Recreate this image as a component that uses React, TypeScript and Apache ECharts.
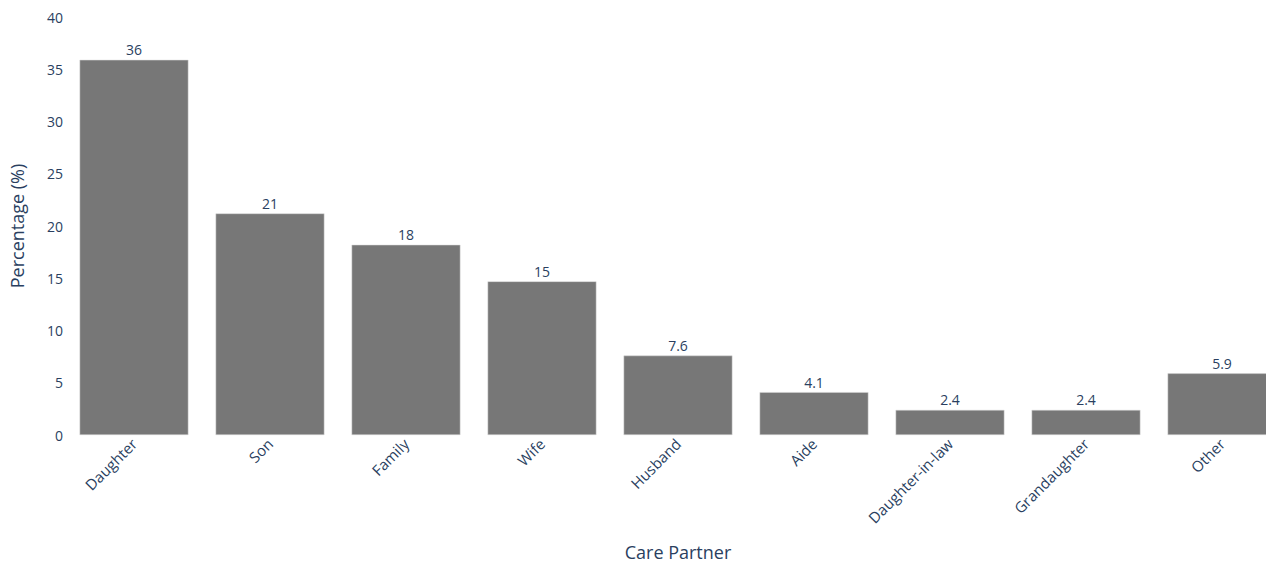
import React, { useEffect, useRef } from "react";
import * as echarts from "echarts";

const categories = [
  "Daughter",
  "Son",
  "Family",
  "Wife",
  "Husband",
  "Aide",
  "Daughter-in-law",
  "Grandaughter",
  "Other",
];
const percentages = [35.9, 21.2, 18.2, 14.7, 7.6, 4.1, 2.4, 2.4, 5.9];
const yTicks = { min: 0, max: 40, interval: 5 };

const TEXT = "#2a3f5f";
const FONT = "'Open Sans', 'Noto Sans', sans-serif";

export default function App() {
  const ref = useRef<HTMLDivElement>(null);
  useEffect(() => {
    document.body.style.margin = "0";
    if (!ref.current) return;
    const chart = echarts.init(ref.current, undefined, { renderer: "svg" });
    chart.setOption({
      animation: false,
      backgroundColor: "#ffffff",
      textStyle: { fontFamily: FONT, color: TEXT },
      grid: {
        left: 66,
        right: 0,
        top: 17,
        bottom: 129,
        containLabel: false,
        outerBoundsMode: "none",
      },
      xAxis: {
        type: "category",
        data: categories,
        name: "Care Partner",
        nameLocation: "middle",
        nameGap: 108,
        nameTextStyle: { fontFamily: FONT, fontSize: 18, color: TEXT },
        axisLine: { show: false },
        axisTick: { show: false },
        axisLabel: {
          rotate: 45,
          interval: 0,
          margin: 6,
          fontFamily: FONT,
          fontSize: 15,
          color: TEXT,
        },
      },
      yAxis: {
        type: "value",
        min: yTicks.min,
        max: yTicks.max,
        interval: yTicks.interval,
        name: "Percentage (%)",
        nameLocation: "middle",
        nameGap: 40,
        nameTextStyle: { fontFamily: FONT, fontSize: 18, color: TEXT },
        axisLine: { show: false },
        axisTick: { show: false },
        splitLine: { show: false },
        axisLabel: { margin: 3, fontFamily: FONT, fontSize: 14, color: TEXT },
      },
      series: [
        {
          type: "bar",
          data: percentages,
          barCategoryGap: "20%",
          itemStyle: { color: "#777777", borderColor: "#d9d9d9", borderWidth: 0.5 },
          label: {
            show: true,
            position: "top",
            distance: 3,
            fontFamily: FONT,
            fontSize: 14,
            color: TEXT,
            formatter: (p: any) => String(Number(Number(p.value).toPrecision(2))),
          },
        },
      ],
    });
    return () => chart.dispose();
  }, []);
  return (
    <div style={{ width: 1266, height: 564, overflow: "hidden", position: "relative" }}>
      <div ref={ref} style={{ width: 1290, height: 564 }} />
    </div>
  );
}
